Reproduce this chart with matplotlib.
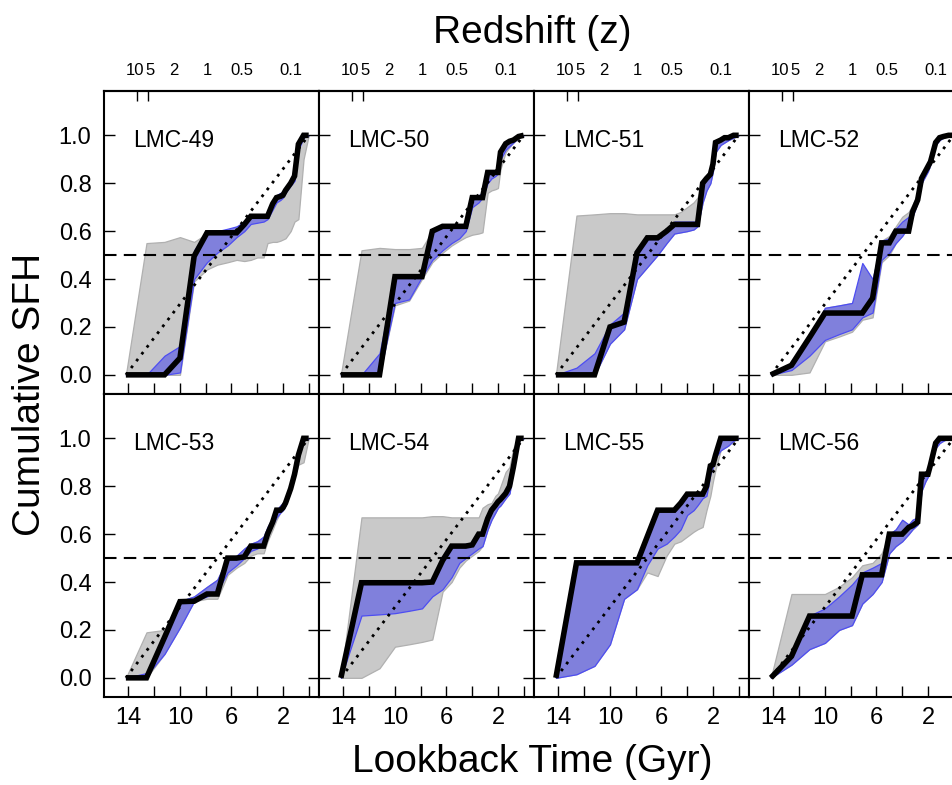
import matplotlib.pyplot as plt

plt.rcParams['font.family'] = ['Liberation Sans', 'DejaVu Sans']

# lookback time grid (Gyr), shared by every panel
t_grid = [14.2, 12.6, 11.2, 10.0, 8.9, 7.9, 7.1, 6.3, 5.6, 5.0, 4.5, 4.0,
          3.5, 3.2, 2.8, 2.5, 2.2, 2.0, 1.8, 1.4, 1.1, 0.8, 0.4, 0.0]

# constant SFH reference (dotted)
const_t = [14.2, 0.0]
const_y = [0.0, 1.0]

# redshift axis on top
z_labels = ['10', '5', '2', '1', '0.5', '0.1', '']
z_lookback = [13.3, 12.45, 10.5, 7.9, 5.2, 1.35, 0.0]

# LMC-49
best_49 = [0, 0, 0, 0.07, 0.495, 0.593, 0.593, 0.593, 0.593, 0.628, 0.662, 0.662,
           0.662, 0.662, 0.714, 0.74, 0.745, 0.75, 0.77, 0.80, 0.83, 0.963, 1.0, 1.0]
blue_lo_49 = [0, 0, 0, 0.01, 0.40, 0.47, 0.51, 0.54, 0.575, 0.60, 0.63, 0.635,
              0.64, 0.65, 0.69, 0.72, 0.73, 0.74, 0.76, 0.79, 0.81, 0.94, 0.99, 1.0]
blue_hi_49 = [0, 0, 0.08, 0.12, 0.52, 0.60, 0.60, 0.61, 0.62, 0.64, 0.665, 0.665,
              0.67, 0.67, 0.72, 0.75, 0.76, 0.76, 0.78, 0.81, 0.84, 0.97, 1.0, 1.0]
gray_lo_49 = [0, 0, 0, 0.0, 0.39, 0.44, 0.46, 0.47, 0.48, 0.475, 0.48, 0.49,
              0.49, 0.55, 0.555, 0.555, 0.56, 0.565, 0.57, 0.60, 0.64, 0.65, 0.90, 1.0]
gray_hi_49 = [0, 0.55, 0.555, 0.575, 0.555, 0.59, 0.59, 0.59, 0.60, 0.63, 0.66, 0.66,
              0.66, 0.67, 0.71, 0.74, 0.75, 0.75, 0.77, 0.81, 0.84, 0.97, 1.0, 1.0]

# LMC-50
best_50 = [0, 0, 0, 0.41, 0.41, 0.41, 0.60, 0.62, 0.62, 0.62, 0.62, 0.74,
           0.74, 0.74, 0.845, 0.845, 0.845, 0.845, 0.93, 0.965, 0.975, 0.98, 0.995, 1.0]
blue_lo_50 = [0, 0, 0, 0.30, 0.315, 0.41, 0.48, 0.52, 0.55, 0.57, 0.60, 0.70,
              0.72, 0.74, 0.80, 0.82, 0.83, 0.84, 0.90, 0.94, 0.955, 0.97, 0.99, 1.0]
blue_hi_50 = [0, 0, 0.09, 0.41, 0.41, 0.42, 0.60, 0.62, 0.62, 0.62, 0.63, 0.74,
              0.75, 0.76, 0.845, 0.845, 0.85, 0.85, 0.93, 0.965, 0.975, 0.985, 1.0, 1.0]
gray_lo_50 = [0, 0, 0, 0.29, 0.31, 0.40, 0.47, 0.51, 0.54, 0.56, 0.575, 0.585,
              0.59, 0.595, 0.76, 0.77, 0.775, 0.78, 0.86, 0.93, 0.95, 0.97, 0.99, 1.0]
gray_hi_50 = [0, 0.52, 0.53, 0.525, 0.525, 0.53, 0.60, 0.62, 0.62, 0.62, 0.62, 0.74,
              0.74, 0.74, 0.84, 0.845, 0.845, 0.845, 0.93, 0.965, 0.975, 0.985, 1.0, 1.0]

# LMC-51
best_51 = [0, 0, 0, 0.20, 0.22, 0.51, 0.572, 0.572, 0.60, 0.628, 0.628, 0.628,
           0.628, 0.628, 0.80, 0.82, 0.837, 0.88, 0.97, 0.98, 0.99, 0.99, 1.0, 1.0]
blue_lo_51 = [0, 0, 0, 0.13, 0.19, 0.40, 0.45, 0.50, 0.55, 0.59, 0.595, 0.60,
              0.607, 0.62, 0.72, 0.77, 0.80, 0.85, 0.93, 0.96, 0.97, 0.98, 0.99, 1.0]
blue_hi_51 = [0, 0.03, 0.09, 0.21, 0.26, 0.51, 0.575, 0.58, 0.61, 0.64, 0.64, 0.64,
              0.64, 0.64, 0.80, 0.82, 0.84, 0.89, 0.97, 0.98, 0.99, 0.99, 1.0, 1.0]
gray_lo_51 = [0, 0, 0, 0.13, 0.19, 0.40, 0.45, 0.50, 0.55, 0.59, 0.595, 0.60,
              0.607, 0.62, 0.72, 0.77, 0.80, 0.85, 0.93, 0.96, 0.97, 0.98, 0.99, 1.0]
gray_hi_51 = [0, 0.665, 0.67, 0.675, 0.675, 0.67, 0.67, 0.67, 0.67, 0.67, 0.68, 0.70,
              0.72, 0.74, 0.80, 0.82, 0.84, 0.89, 0.97, 0.98, 0.99, 0.99, 1.0, 1.0]

# LMC-52
best_52 = [0, 0.04, 0.156, 0.258, 0.258, 0.258, 0.258, 0.32, 0.551, 0.551, 0.60, 0.60,
           0.60, 0.68, 0.73, 0.82, 0.85, 0.87, 0.89, 0.97, 0.99, 0.995, 1.0, 1.0]
blue_lo_52 = [0, 0.02, 0.08, 0.146, 0.17, 0.19, 0.24, 0.26, 0.48, 0.51, 0.55, 0.58,
              0.62, 0.66, 0.72, 0.80, 0.83, 0.85, 0.88, 0.96, 0.98, 0.99, 1.0, 1.0]
blue_hi_52 = [0, 0.05, 0.16, 0.28, 0.29, 0.30, 0.467, 0.40, 0.56, 0.57, 0.61, 0.64,
              0.66, 0.70, 0.75, 0.82, 0.86, 0.88, 0.90, 0.98, 0.99, 1.0, 1.0, 1.0]
gray_lo_52 = [0, 0.0, 0.01, 0.14, 0.16, 0.18, 0.23, 0.24, 0.47, 0.50, 0.55, 0.58,
              0.62, 0.66, 0.72, 0.80, 0.83, 0.85, 0.88, 0.96, 0.98, 0.99, 1.0, 1.0]
gray_hi_52 = [0, 0.05, 0.16, 0.28, 0.29, 0.30, 0.40, 0.40, 0.56, 0.58, 0.62, 0.66,
              0.68, 0.71, 0.76, 0.82, 0.86, 0.88, 0.90, 0.98, 0.99, 1.0, 1.0, 1.0]

# LMC-53
best_53 = [0, 0, 0.169, 0.318, 0.32, 0.35, 0.35, 0.50, 0.50, 0.505, 0.55, 0.55,
           0.55, 0.60, 0.65, 0.70, 0.70, 0.71, 0.73, 0.79, 0.85, 0.93, 1.0, 1.0]
blue_lo_53 = [0, 0.01, 0.10, 0.21, 0.32, 0.34, 0.36, 0.44, 0.47, 0.50, 0.53, 0.54,
              0.56, 0.60, 0.64, 0.67, 0.69, 0.70, 0.72, 0.78, 0.84, 0.92, 0.99, 1.0]
blue_hi_53 = [0, 0.02, 0.17, 0.32, 0.34, 0.38, 0.41, 0.50, 0.51, 0.54, 0.56, 0.57,
              0.59, 0.63, 0.67, 0.70, 0.72, 0.73, 0.74, 0.80, 0.86, 0.94, 1.0, 1.0]
gray_lo_53 = [0, 0.0, 0.10, 0.21, 0.32, 0.33, 0.33, 0.43, 0.46, 0.48, 0.51, 0.52,
              0.52, 0.57, 0.62, 0.66, 0.69, 0.70, 0.72, 0.78, 0.84, 0.89, 0.90, 1.0]
gray_hi_53 = [0, 0.19, 0.20, 0.32, 0.34, 0.38, 0.41, 0.50, 0.51, 0.54, 0.56, 0.57,
              0.59, 0.63, 0.67, 0.70, 0.72, 0.73, 0.74, 0.80, 0.86, 0.94, 1.0, 1.0]

# LMC-54
best_54 = [0, 0.397, 0.397, 0.397, 0.397, 0.397, 0.40, 0.49, 0.55, 0.55, 0.55, 0.555,
           0.60, 0.60, 0.665, 0.70, 0.72, 0.735, 0.745, 0.77, 0.80, 0.88, 1.0, 1.0]
blue_lo_54 = [0, 0.26, 0.265, 0.27, 0.28, 0.29, 0.34, 0.37, 0.42, 0.48, 0.50, 0.52,
              0.54, 0.55, 0.62, 0.66, 0.69, 0.71, 0.72, 0.75, 0.77, 0.87, 0.99, 1.0]
blue_hi_54 = [0, 0.40, 0.40, 0.40, 0.40, 0.40, 0.41, 0.49, 0.55, 0.555, 0.56, 0.565,
              0.60, 0.61, 0.67, 0.70, 0.72, 0.735, 0.745, 0.77, 0.80, 0.89, 1.0, 1.0]
gray_lo_54 = [0, 0.0, 0.04, 0.13, 0.14, 0.15, 0.16, 0.36, 0.40, 0.46, 0.49, 0.51,
              0.53, 0.55, 0.62, 0.66, 0.69, 0.71, 0.72, 0.75, 0.77, 0.87, 0.99, 1.0]
gray_hi_54 = [0, 0.67, 0.67, 0.67, 0.67, 0.67, 0.675, 0.675, 0.67, 0.67, 0.67, 0.67,
              0.67, 0.71, 0.725, 0.73, 0.76, 0.77, 0.80, 0.86, 0.88, 0.96, 1.0, 1.0]

# LMC-55
best_55 = [0, 0.48, 0.48, 0.48, 0.48, 0.48, 0.59, 0.70, 0.70, 0.70, 0.73, 0.767,
           0.767, 0.767, 0.767, 0.80, 0.885, 0.89, 0.93, 1.0, 1.0, 1.0, 1.0, 1.0]
blue_lo_55 = [0, 0.015, 0.05, 0.14, 0.33, 0.37, 0.47, 0.54, 0.56, 0.59, 0.62, 0.68,
              0.70, 0.72, 0.75, 0.76, 0.85, 0.88, 0.92, 0.95, 0.96, 0.97, 0.99, 1.0]
blue_hi_55 = [0, 0.48, 0.48, 0.48, 0.48, 0.48, 0.59, 0.70, 0.70, 0.70, 0.73, 0.767,
              0.767, 0.767, 0.767, 0.80, 0.885, 0.89, 0.93, 1.0, 1.0, 1.0, 1.0, 1.0]
gray_lo_55 = [0, 0.015, 0.05, 0.14, 0.33, 0.37, 0.44, 0.425, 0.51, 0.56, 0.57, 0.59,
              0.61, 0.62, 0.63, 0.70, 0.76, 0.82, 0.87, 0.95, 0.96, 0.97, 0.99, 1.0]
gray_hi_55 = [0, 0.48, 0.48, 0.48, 0.48, 0.48, 0.59, 0.70, 0.70, 0.70, 0.73, 0.767,
              0.767, 0.767, 0.767, 0.80, 0.885, 0.89, 0.93, 1.0, 1.0, 1.0, 1.0, 1.0]

# LMC-56
best_56 = [0, 0.09, 0.258, 0.258, 0.258, 0.258, 0.43, 0.43, 0.43, 0.60, 0.60, 0.60,
           0.628, 0.635, 0.65, 0.85, 0.85, 0.85, 0.89, 0.98, 1.0, 1.0, 1.0, 1.0]
blue_lo_56 = [0, 0.055, 0.12, 0.146, 0.20, 0.22, 0.31, 0.35, 0.40, 0.52, 0.55, 0.57,
              0.60, 0.62, 0.64, 0.78, 0.82, 0.84, 0.88, 0.96, 0.98, 0.99, 1.0, 1.0]
blue_hi_56 = [0, 0.09, 0.26, 0.29, 0.34, 0.39, 0.44, 0.46, 0.48, 0.60, 0.62, 0.66,
              0.64, 0.66, 0.67, 0.85, 0.86, 0.87, 0.90, 0.98, 1.0, 1.0, 1.0, 1.0]
gray_lo_56 = [0, 0.055, 0.12, 0.146, 0.20, 0.22, 0.31, 0.35, 0.40, 0.52, 0.55, 0.57,
              0.60, 0.62, 0.64, 0.78, 0.82, 0.84, 0.88, 0.96, 0.98, 0.99, 1.0, 1.0]
gray_hi_56 = [0, 0.35, 0.35, 0.35, 0.38, 0.42, 0.47, 0.48, 0.52, 0.60, 0.62, 0.66,
              0.64, 0.66, 0.67, 0.85, 0.86, 0.87, 0.90, 0.98, 1.0, 1.0, 1.0, 1.0]

panels = [
    ('LMC-49', best_49, blue_lo_49, blue_hi_49, gray_lo_49, gray_hi_49),
    ('LMC-50', best_50, blue_lo_50, blue_hi_50, gray_lo_50, gray_hi_50),
    ('LMC-51', best_51, blue_lo_51, blue_hi_51, gray_lo_51, gray_hi_51),
    ('LMC-52', best_52, blue_lo_52, blue_hi_52, gray_lo_52, gray_hi_52),
    ('LMC-53', best_53, blue_lo_53, blue_hi_53, gray_lo_53, gray_hi_53),
    ('LMC-54', best_54, blue_lo_54, blue_hi_54, gray_lo_54, gray_hi_54),
    ('LMC-55', best_55, blue_lo_55, blue_hi_55, gray_lo_55, gray_hi_55),
    ('LMC-56', best_56, blue_lo_56, blue_hi_56, gray_lo_56, gray_hi_56),
]

# nudge the crowded "10" / "5" labels apart a little so they only touch
z_nudge = [0.16, -0.16, 0, 0, 0, 0, 0]
z_label_pos = [z + d for z, d in zip(z_lookback, z_nudge)]

W, H = 953, 785
fig = plt.figure(figsize=(W / 100, H / 100), dpi=100)

for i, (name, best, blo, bhi, glo, ghi) in enumerate(panels):
    row, col = divmod(i, 4)
    left = (104 + 215 * col) / W
    bottom = (1 - 394 / H) if row == 0 else (1 - 697 / H)
    ax = fig.add_axes([left, bottom, 215 / W, 303 / H])

    ax.fill_between(t_grid, glo, ghi, facecolor='#c9c9c9', edgecolor='#b0b0b0', lw=0.9)
    ax.fill_between(t_grid, blo, bhi, facecolor='#8080dc', edgecolor='#4d4df2', lw=0.9)
    ax.plot(const_t, const_y, color='k', ls=(0, (1, 2.1)), lw=2)
    ax.axhline(0.5, color='k', ls=(0, (6, 3.5)), lw=1.5)
    ax.plot(t_grid, best, color='k', lw=4, solid_joinstyle='miter', solid_capstyle='butt')
    ax.text(13.6, 0.98, name, fontsize=16.5, va='center', ha='left')

    ax.set_xlim(15.9, -0.8)
    ax.set_ylim(-0.08, 1.185)
    ax.set_xticks(range(0, 16, 2))
    ax.set_xticklabels(['' if t % 4 == 0 else str(t) for t in range(0, 16, 2)])
    ax.set_yticks([0, 0.2, 0.4, 0.6, 0.8, 1.0])
    ax.set_yticklabels(['0.0', '0.2', '0.4', '0.6', '0.8', '1.0'])
    ax.tick_params(direction='in', length=8, width=1, right=True, top=False,
                   labelsize=17)
    ax.tick_params(axis='x', pad=7)
    ax.tick_params(axis='y', pad=9)
    if col > 0:
        ax.tick_params(labelleft=False)
    if row == 0:
        ax.tick_params(labelbottom=False)
        sec = ax.secondary_xaxis('top')
        sec.set_xticks(z_label_pos)
        sec.set_xticklabels(z_labels)
        sec.set_xticks(z_lookback, minor=True)
        sec.tick_params(which='major', length=0, labelsize=12, pad=9)
        sec.tick_params(which='minor', direction='in', length=7, width=1)
        sec.spines['top'].set_linewidth(1.5)
    for s in ax.spines.values():
        s.set_linewidth(1.5)

fig.text(0.031, 0.497, 'Cumulative SFH', rotation=90, fontsize=28, ha='center', va='center')
fig.text(0.558, 0.029, 'Lookback Time (Gyr)', fontsize=28, ha='center', va='center')
fig.text(0.558, 0.958, 'Redshift (z)', fontsize=28, ha='center', va='center')

fig.savefig('out.png', dpi=100)
